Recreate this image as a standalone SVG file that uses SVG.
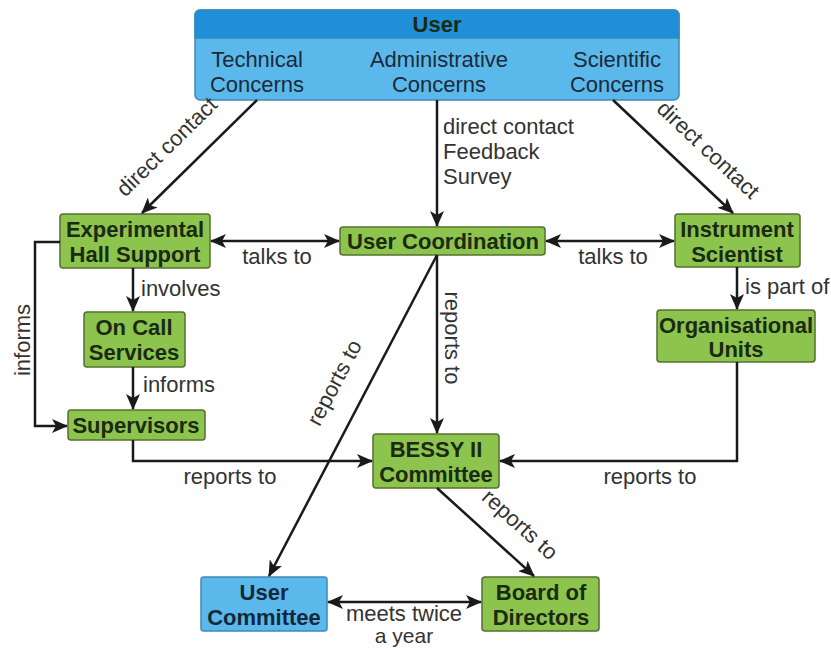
<svg xmlns="http://www.w3.org/2000/svg" width="831" height="649" viewBox="0 0 831 649">
<defs>
<marker id="ah" markerUnits="userSpaceOnUse" markerWidth="16" markerHeight="14" viewBox="0 0 16 14" refX="15" refY="7" orient="auto-start-reverse">
<path d="M0,0 L16,7 L0,14 L4,7 Z" fill="#1a1a1a"/>
</marker>
<style>
.g{fill:#8dc44e;stroke:#55702e;stroke-width:1.5}
.b{fill:#5bb8ea;stroke:#3d8ab8;stroke-width:1.5}
.nt{font-family:"Liberation Sans",Arial,sans-serif;font-weight:bold;font-size:22px;fill:#1b2a12;text-anchor:middle}
.bt{font-family:"Liberation Sans",Arial,sans-serif;font-size:22px;fill:#1b2a3a;text-anchor:middle}
.lb{font-family:"Liberation Sans",Arial,sans-serif;font-size:22px;fill:#333}
.c{fill:none;stroke:#1a1a1a;stroke-width:2.5}
</style>
</defs>
<g id="user">
<rect x="195" y="10" width="484" height="90" rx="5" class="b"/>
<path d="M195,38 V15 a5,5 0 0 1 5,-5 H674 a5,5 0 0 1 5,5 V38 Z" fill="#1e8fd8" stroke="#3d8ab8" stroke-width="1.5"/>
<text x="437" y="32" class="nt">User</text>
<text x="257" y="67" class="bt">Technical</text>
<text x="257" y="92" class="bt">Concerns</text>
<text x="439" y="67" class="bt">Administrative</text>
<text x="439" y="92" class="bt">Concerns</text>
<text x="617" y="67" class="bt">Scientific</text>
<text x="617" y="92" class="bt">Concerns</text>
</g>
<g id="ehs">
<rect x="60" y="214" width="150" height="54" rx="3" class="g"/>
<text x="135" y="237" class="nt">Experimental</text>
<text x="135" y="262" class="nt">Hall Support</text>
</g>
<g id="ocs">
<rect x="84" y="312" width="101" height="55" rx="3" class="g"/>
<text x="134" y="335" class="nt">On Call</text>
<text x="134" y="360" class="nt">Services</text>
</g>
<g id="sup">
<rect x="68" y="410" width="137" height="30" rx="3" class="g"/>
<text x="136" y="433" class="nt">Supervisors</text>
</g>
<g id="uc">
<rect x="340" y="227" width="205" height="28" rx="3" class="g"/>
<text x="443" y="249" class="nt">User Coordination</text>
</g>
<g id="is">
<rect x="675" y="214" width="125" height="53" rx="3" class="g"/>
<text x="737" y="237" class="nt">Instrument</text>
<text x="737" y="262" class="nt">Scientist</text>
</g>
<g id="ou">
<rect x="657" y="310" width="158" height="52" rx="3" class="g"/>
<text x="736" y="333" class="nt">Organisational</text>
<text x="736" y="357" class="nt">Units</text>
</g>
<g id="bessy">
<rect x="373" y="434" width="126" height="54" rx="3" class="g"/>
<text x="436" y="457" class="nt">BESSY II</text>
<text x="436" y="482" class="nt">Committee</text>
</g>
<g id="ucom">
<rect x="201" y="577" width="126" height="54" rx="3" class="b"/>
<text x="264" y="600" class="nt" style="fill:#14283a">User</text>
<text x="264" y="625" class="nt" style="fill:#14283a">Committee</text>
</g>
<g id="board">
<rect x="482" y="577" width="117" height="54" rx="3" class="g"/>
<text x="541" y="600" class="nt">Board of</text>
<text x="541" y="625" class="nt">Directors</text>
</g>
<g id="connectors">
<line x1="257" y1="100" x2="142" y2="213" class="c" marker-end="url(#ah)"/>
<text class="lb" text-anchor="middle" transform="translate(172,152) rotate(-44.5)">direct contact</text>
<line x1="437" y1="100" x2="437" y2="226" class="c" marker-end="url(#ah)"/>
<text x="443" y="134" class="lb">direct contact</text>
<text x="443" y="159" class="lb">Feedback</text>
<text x="443" y="184" class="lb">Survey</text>
<line x1="613" y1="100" x2="733" y2="213" class="c" marker-end="url(#ah)"/>
<text class="lb" text-anchor="middle" transform="translate(703,155) rotate(43.3)">direct contact</text>
<line x1="211" y1="241" x2="339" y2="241" class="c" marker-start="url(#ah)" marker-end="url(#ah)"/>
<text x="277" y="264" class="lb" text-anchor="middle">talks to</text>
<line x1="546" y1="241" x2="674" y2="241" class="c" marker-start="url(#ah)" marker-end="url(#ah)"/>
<text x="613" y="264" class="lb" text-anchor="middle">talks to</text>
<line x1="133" y1="268" x2="133" y2="311" class="c" marker-end="url(#ah)"/>
<text x="141" y="296" class="lb">involves</text>
<line x1="133" y1="367" x2="133" y2="409" class="c" marker-end="url(#ah)"/>
<text x="143" y="392" class="lb">informs</text>
<polyline points="60,242 35,242 35,426 67,426" class="c" marker-end="url(#ah)"/>
<text class="lb" text-anchor="middle" transform="translate(30,340) rotate(-90)">informs</text>
<line x1="737" y1="267" x2="737" y2="309" class="c" marker-end="url(#ah)"/>
<text x="745" y="294" class="lb">is part of</text>
<polyline points="133,440 133,461 372,461" class="c" marker-end="url(#ah)"/>
<text x="230" y="484" class="lb" text-anchor="middle">reports to</text>
<polyline points="737,362 737,461 500,461" class="c" marker-end="url(#ah)"/>
<text x="650" y="484" class="lb" text-anchor="middle">reports to</text>
<line x1="437" y1="255" x2="437" y2="433" class="c" marker-end="url(#ah)"/>
<text class="lb" text-anchor="middle" transform="translate(445,338) rotate(90)">reports to</text>
<line x1="437" y1="255" x2="269" y2="576" class="c" marker-end="url(#ah)"/>
<text class="lb" text-anchor="middle" transform="translate(341,386) rotate(-62.4)">reports to</text>
<line x1="437" y1="488" x2="534" y2="576" class="c" marker-end="url(#ah)"/>
<text class="lb" text-anchor="middle" transform="translate(515,530) rotate(42)">reports to</text>
<line x1="328" y1="602" x2="481" y2="602" class="c" marker-start="url(#ah)" marker-end="url(#ah)"/>
<text x="404" y="621" class="lb" text-anchor="middle">meets twice</text>
<text x="404" y="643" class="lb" text-anchor="middle" style="font-size:21px">a year</text>
</g>
</svg>
